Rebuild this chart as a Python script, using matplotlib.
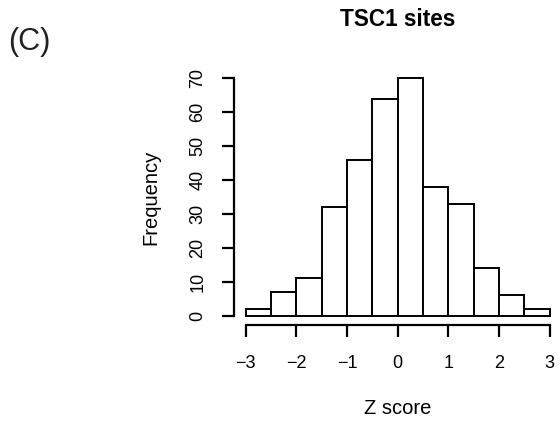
import numpy as np
import matplotlib
matplotlib.use('Agg')
import matplotlib.pyplot as plt

plt.rcParams['font.family'] = ['Liberation Sans', 'DejaVu Sans']

# histogram of Z scores, bins of width 0.5 from -3 to 3
bin_left = [-3.0, -2.5, -2.0, -1.5, -1.0, -0.5, 0.0, 0.5, 1.0, 1.5, 2.0, 2.5]
counts = [2, 7, 11, 32, 46, 64, 70, 38, 33, 14, 6, 2]
x_ticks = [-3, -2, -1, 0, 1, 2, 3]
y_ticks = [0, 10, 20, 30, 40, 50, 60, 70]

W, H = 559, 423
fig = plt.figure(figsize=(W / 100, H / 100), dpi=100)

# plot region in pixels (R style, 4% padding around data range)
left, right, top, bottom = 233.5, 562.0, 68.8, 325.2
ax = fig.add_axes([left / W, 1 - bottom / H, (right - left) / W, (bottom - top) / H])

ax.bar(bin_left, counts, width=0.5, align='edge', color='white',
       edgecolor='black', linewidth=1.4)

ax.set_xlim(-3.24, 3.24)
ax.set_ylim(-2.8, 72.8)

for s in ['top', 'right']:
    ax.spines[s].set_visible(False)
ax.spines['left'].set_bounds(0, 70)
ax.spines['bottom'].set_bounds(-3, 3)
ax.spines['left'].set_linewidth(1.6)
ax.spines['bottom'].set_linewidth(1.6)

ax.set_xticks(x_ticks)
ax.set_xticklabels(['\u2212' + str(-t) if t < 0 else str(t) for t in x_ticks])
ax.set_yticks(y_ticks)
ax.set_yticklabels([str(t) for t in y_ticks], rotation=90, va='center')
ax.tick_params(axis='both', direction='out', length=8.4, width=1.6, labelsize=13)
ax.tick_params(axis='x', pad=13)
ax.tick_params(axis='y', pad=11)

fig.text(150.7 / W, 1 - 197 / H, 'Frequency', rotation=90, ha='center', va='center', fontsize=14.5)
fig.text(397.7 / W, 1 - 408 / H, 'Z score', ha='center', va='center', fontsize=14.5)
fig.text(397.7 / W, 1 - 20 / H, 'TSC1 sites', ha='center', va='center', fontsize=16.3, fontweight='bold')
fig.text(8 / W, 1 - 42 / H, '(C)', ha='left', va='center', fontsize=22, color='#222222')

fig.savefig('out.png', dpi=100)
